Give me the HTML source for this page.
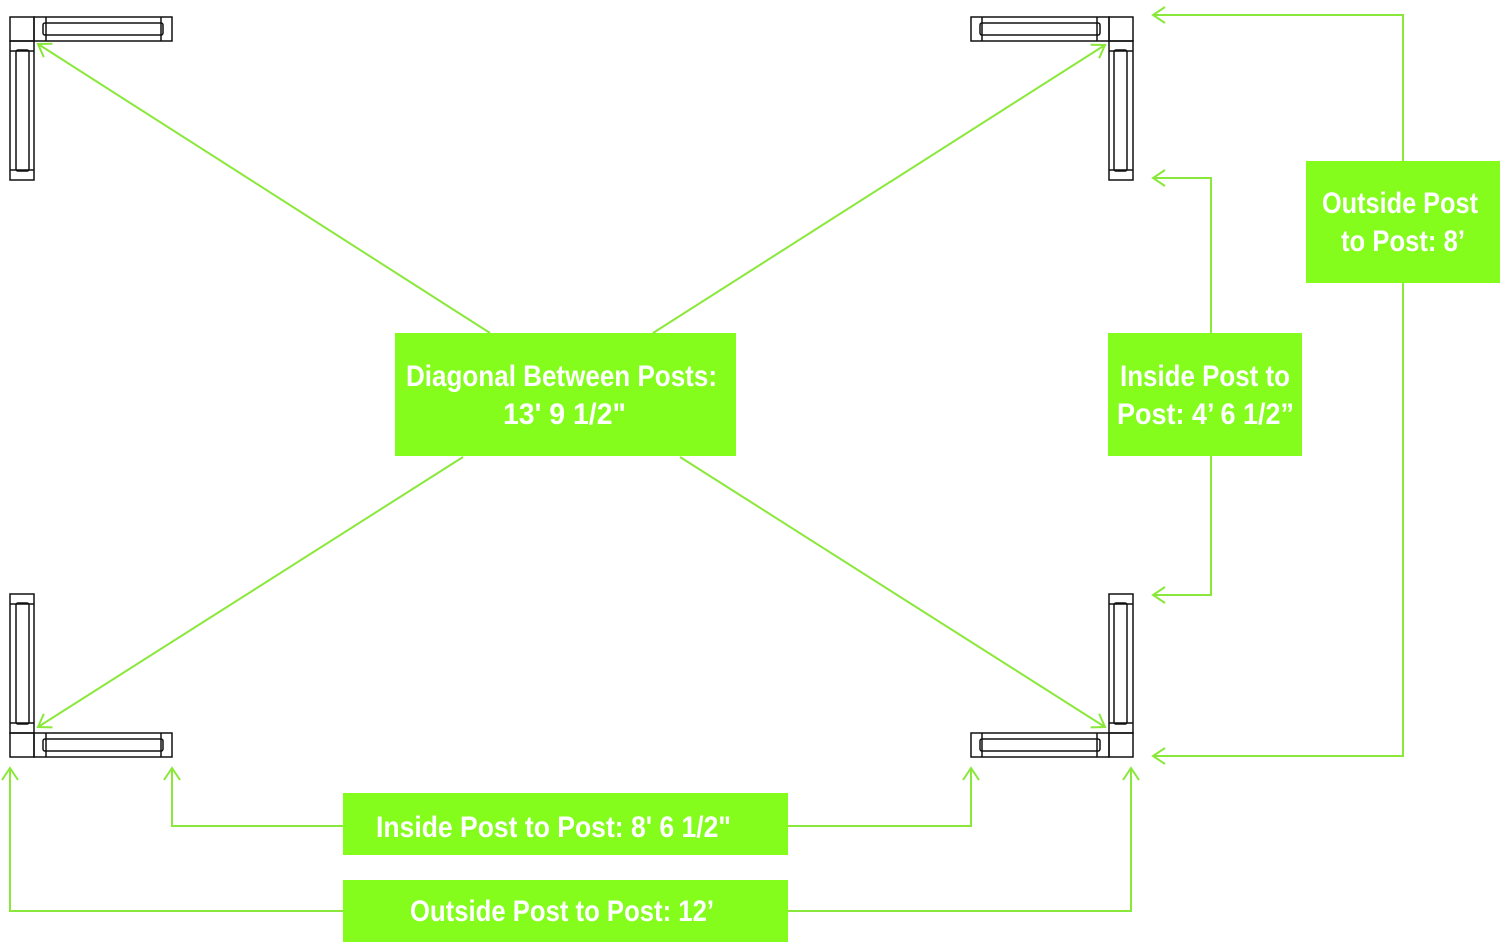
<!DOCTYPE html>
<html><head><style>
html,body{margin:0;padding:0;background:#fff;}
svg{display:block}
.t{font-family:"Liberation Sans",sans-serif;font-weight:bold;fill:#fff;font-size:30px}
</style></head><body>
<svg width="1500" height="951" viewBox="0 0 1500 951" xmlns="http://www.w3.org/2000/svg">
<defs>
<marker id="a" markerWidth="20" markerHeight="20" refX="13" refY="10" orient="auto" markerUnits="userSpaceOnUse">
<path d="M1,2 L13,10 L1,18" fill="none" stroke="#8ae83a" stroke-width="2"/>
</marker>
<g id="post" fill="none" stroke="#111" stroke-width="1.5">
<rect x="10" y="17" width="24" height="24"/>
<rect x="34" y="17" width="138" height="24"/>
<line x1="46" y1="17" x2="46" y2="41"/><line x1="161" y1="17" x2="161" y2="41"/>
<rect x="43" y="23" width="120" height="12" rx="2"/>
<rect x="10" y="41" width="24" height="139"/>
<line x1="10" y1="51" x2="34" y2="51"/><line x1="10" y1="170" x2="34" y2="170"/>
<rect x="16" y="50" width="13" height="121" rx="2"/>
</g>
</defs>
<use href="#post"/>
<use href="#post" transform="translate(1143,0) scale(-1,1)"/>
<use href="#post" transform="translate(0,774) scale(1,-1)"/>
<use href="#post" transform="translate(1143,774) scale(-1,-1)"/>
<g fill="none" stroke="#8ae83a" stroke-width="2">
<line x1="490" y1="333" x2="38" y2="44" marker-end="url(#a)"/>
<line x1="653" y1="333" x2="1105" y2="45" marker-end="url(#a)"/>
<line x1="463" y1="457" x2="38" y2="727" marker-end="url(#a)"/>
<line x1="680" y1="457" x2="1105" y2="727" marker-end="url(#a)"/>
<polyline points="1403,161 1403,15 1153,15" marker-end="url(#a)"/>
<polyline points="1403,283 1403,756 1153,756" marker-end="url(#a)"/>
<polyline points="1211,333 1211,178 1153,178" marker-end="url(#a)"/>
<polyline points="1211,456 1211,595 1153,595" marker-end="url(#a)"/>
<polyline points="343,826 172,826 172,768" marker-end="url(#a)"/>
<polyline points="788,826 971,826 971,768" marker-end="url(#a)"/>
<polyline points="343,911 10,911 10,768" marker-end="url(#a)"/>
<polyline points="788,911 1131,911 1131,768" marker-end="url(#a)"/>
</g>
<g fill="#84fc1c">
<rect x="395" y="333" width="341" height="123"/>
<rect x="1108" y="333" width="194" height="123"/>
<rect x="1306" y="161" width="194" height="122"/>
<rect x="343" y="793" width="445" height="62"/>
<rect x="343" y="880" width="445" height="62"/>
</g>
<text class="t" x="406" y="386" textLength="311" lengthAdjust="spacingAndGlyphs">Diagonal Between Posts:</text>
<text class="t" x="503" y="424" textLength="123" lengthAdjust="spacingAndGlyphs">13' 9 1/2"</text>
<text class="t" x="1120" y="386" textLength="170" lengthAdjust="spacingAndGlyphs">Inside Post to</text>
<text class="t" x="1117" y="424" textLength="177" lengthAdjust="spacingAndGlyphs">Post: 4’ 6 1/2”</text>
<text class="t" x="1322" y="213" textLength="156" lengthAdjust="spacingAndGlyphs">Outside Post</text>
<text class="t" x="1341" y="251" textLength="124" lengthAdjust="spacingAndGlyphs">to Post: 8’</text>
<text class="t" x="376" y="837" textLength="355" lengthAdjust="spacingAndGlyphs">Inside Post to Post: 8' 6 1/2"</text>
<text class="t" x="410" y="921" textLength="304" lengthAdjust="spacingAndGlyphs">Outside Post to Post: 12’</text>
</svg>
</body></html>
